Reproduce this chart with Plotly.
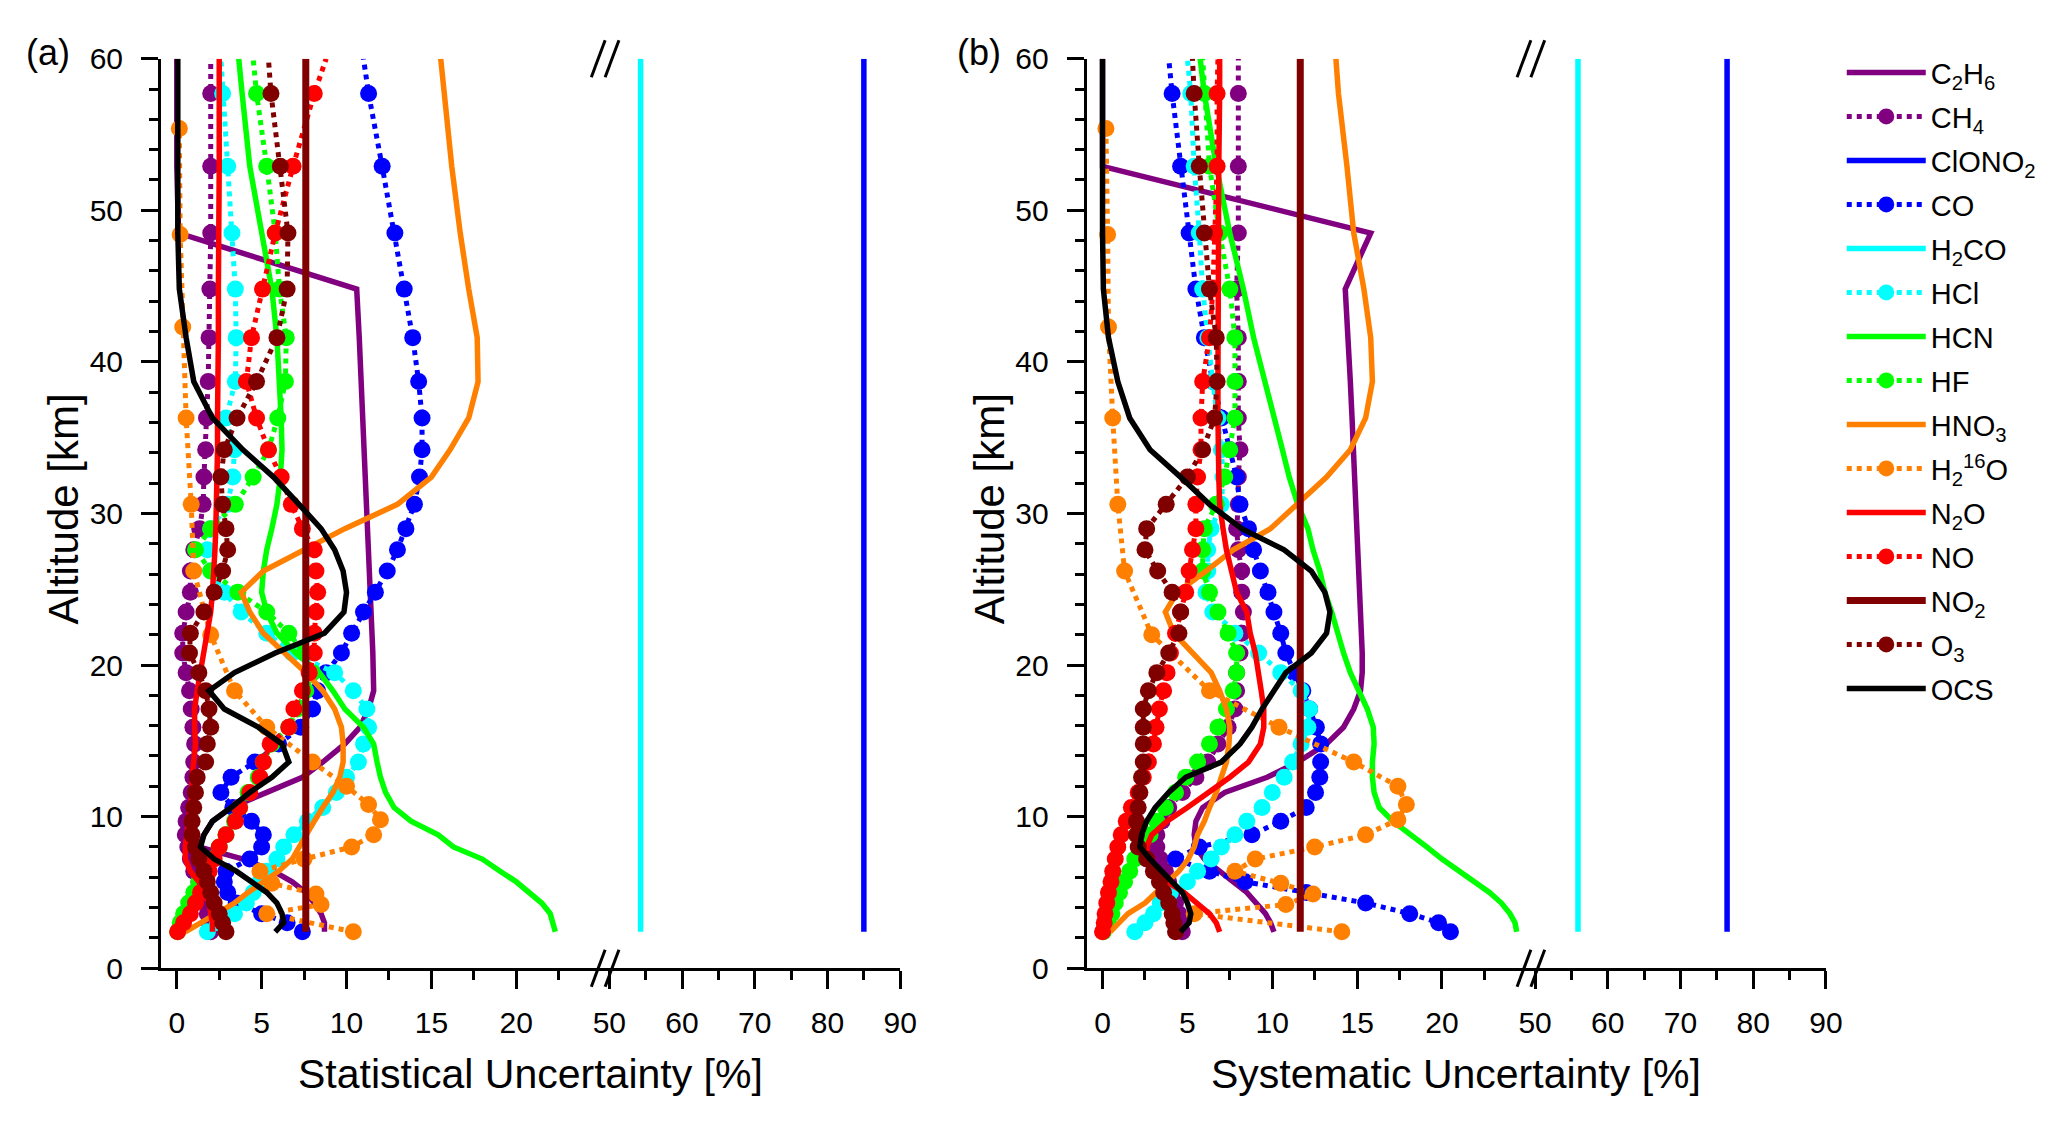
import plotly.graph_objects as go

# ---------------- data ----------------
# altitude levels of the retrieval grid [km]
Z = [2.4, 3.0, 3.6, 4.3, 5.0, 5.7, 6.4, 7.2, 8.0, 8.8,
     9.7, 10.6, 11.6, 12.6, 13.6, 14.8, 15.9, 17.1, 18.3, 19.5,
     20.8, 22.1, 23.5, 24.8, 26.2, 27.6, 29.0, 30.6, 32.4, 34.2,
     36.3, 38.7, 41.6, 44.8, 48.5, 52.9, 57.7, 60.0]
# altitude levels of the H2 16O retrieval [km]
Z_H2O = [2.4, 3.6, 4.2, 4.9, 5.6, 6.4, 7.2, 8.0, 8.8, 9.8, 10.8,
         12.0, 13.6, 15.9, 18.3, 22.0, 26.2, 30.6, 36.3, 42.3, 48.4, 55.4]
# altitude end points of the altitude-independent profiles [km]
Z_ENDS = [2.4, 60.0]

# ---- (a) statistical uncertainty [%] ----
c2h6_stat = [8.7, 8.7, 8.5, 8.1, 7.6, 6.8, 5.7, 3.9, 1.3, 1.6,
             2.1, 3.2, 5.3, 7.4, 8.6, 9.9, 10.8, 11.3, 11.6, 11.6,
             11.55, 11.5, 11.45, 11.4, 11.3, 11.25, 11.2, 11.15, 11.1, 11.0,
             10.95, 10.85, 10.75, 10.6, 0.1, 0.0, 0.0, 0.0]
ch4_stat = [2.0, 1.9, 1.8, 1.7, 1.5, 1.3, 1.0, 0.8, 0.65, 0.5,
            0.55, 0.7, 0.85, 0.95, 1.0, 1.05, 0.95, 0.85, 0.75, 0.55,
            0.35, 0.35, 0.55, 0.8, 0.8, 1.0, 1.35, 1.55, 1.6, 1.7,
            1.75, 1.85, 1.9, 1.95, 2.0, 2.0, 2.0, 2.0]
clono2_stat = [85.0, 85.0]
co_stat = [7.4, 6.5, 5.0, 3.5, 3.0, 2.8, 2.9, 4.3, 5.0, 5.1,
           4.4, 3.3, 2.6, 3.2, 4.6, 6.0, 7.3, 8.0, 8.3, 8.8,
           9.7, 10.3, 11.0, 11.7, 12.4, 13.0, 13.5, 14.0, 14.3, 14.45,
           14.45, 14.25, 13.9, 13.4, 12.85, 12.1, 11.3, 11.0]
h2co_stat = [54.3, 54.3]
hcl_stat = [1.8, 2.4, 3.4, 4.1, 4.5, 4.9, 5.3, 5.9, 6.3, 6.9,
            7.7, 8.6, 9.4, 10.0, 10.7, 11.0, 11.3, 11.2, 10.4, 9.3,
            6.8, 5.3, 3.8, 2.8, 2.0, 1.8, 2.0, 3.0, 3.3, 3.4,
            2.9, 3.45, 3.5, 3.45, 3.25, 3.0, 2.7, 2.6]
hcn_stat = [22.3, 22.15, 22.0, 21.5, 20.8, 20.0, 19.05, 18.0, 16.3, 15.4,
            13.8, 12.8, 12.3, 12.0, 11.8, 11.6, 11.0, 9.9, 9.2, 8.4,
            7.0, 5.9, 5.3, 5.0, 5.1, 5.3, 5.6, 5.9, 6.1, 6.2,
            6.15, 6.05, 5.9, 5.6, 5.0, 4.3, 3.85, 3.65]
hf_stat = [0.05, 0.2, 0.4, 0.7, 1.0, 1.3, 1.7, 2.1, 2.5, 2.9,
           3.4, 3.7, 4.2, 4.8, 5.1, 5.6, 6.6, 7.1, 7.6, 8.0,
           7.5, 6.6, 5.3, 3.6, 2.0, 1.1, 2.0, 3.45, 4.5, 5.4,
           5.95, 6.4, 6.45, 6.05, 5.8, 5.3, 4.7, 4.5]
hno3_stat = [0.5, 1.4, 2.4, 3.4, 4.2, 5.1, 6.0, 6.8, 7.2, 7.6,
             8.1, 8.6, 9.2, 9.6, 9.8, 9.8, 9.7, 9.3, 8.6, 7.6,
             6.3, 5.1, 4.3, 3.8, 5.1, 7.5, 9.9, 13.0, 15.0, 16.1,
             17.2, 17.75, 17.7, 17.2, 16.7, 16.2, 15.75, 15.55]
h2o_stat = [10.4, 5.3, 8.5, 8.2, 5.6, 4.9, 7.5, 10.3, 11.6, 12.0, 11.3,
            10.0, 8.0, 5.3, 3.4, 2.0, 1.0, 0.85, 0.55, 0.35, 0.2, 0.15]
n2o_stat = [2.1, 2.1, 2.0, 1.9, 1.6, 1.3, 0.8, 0.5, 0.5, 0.6,
            0.7, 0.8, 0.9, 0.9, 1.0, 1.1, 1.05, 1.05, 1.2, 1.4,
            1.6, 1.8, 2.0, 2.1, 2.2, 2.25, 2.3, 2.35, 2.4, 2.4,
            2.4, 2.45, 2.45, 2.45, 2.5, 2.5, 2.5, 2.5]
no_stat = [0.05, 0.4, 0.8, 1.1, 1.4, 1.7, 1.9, 2.2, 2.5, 2.9,
           3.45, 3.7, 4.3, 4.9, 5.1, 5.5, 6.6, 6.9, 7.4, 7.8,
           8.1, 8.1, 8.2, 8.3, 8.2, 8.1, 7.4, 6.75, 6.15, 5.4,
           4.7, 4.1, 4.4, 5.05, 5.8, 6.85, 8.1, 8.8]
no2_stat = [7.6, 7.6]
o3_stat = [2.9, 2.7, 2.5, 2.2, 2.0, 1.8, 1.6, 1.3, 1.1, 0.9,
           0.9, 1.0, 1.1, 1.2, 1.7, 1.8, 2.0, 1.9, 1.7, 1.3,
           0.75, 0.8, 1.6, 2.2, 2.7, 3.0, 2.9, 2.7, 2.6, 2.8,
           3.55, 4.7, 5.9, 6.5, 6.55, 6.1, 5.55, 5.4]
ocs_stat = [5.8, 6.3, 6.2, 5.9, 5.3, 4.4, 3.5, 2.2, 1.4, 1.6,
            2.1, 3.2, 4.3, 5.6, 6.6, 6.2, 4.8, 2.8, 1.9, 3.4,
            5.8, 8.7, 9.85, 10.0, 9.8, 9.3, 8.5, 7.2, 5.7, 3.9,
            2.1, 1.0, 0.55, 0.15, 0.06, 0.06, 0.06, 0.06]

# ---- (b) systematic uncertainty [%] ----
c2h6_sys = [10.1, 9.9, 9.6, 9.0, 8.5, 7.7, 6.9, 6.0, 5.5, 5.4,
            5.5, 5.9, 7.2, 9.7, 11.5, 13.2, 14.2, 14.8, 15.2, 15.3,
            15.3, 15.25, 15.2, 15.15, 15.1, 15.1, 15.0, 15.0, 14.9, 14.8,
            14.7, 14.6, 14.45, 14.3, 15.8, 0.0, 0.0, 0.0]
ch4_sys = [4.7, 4.6, 4.5, 4.3, 4.1, 3.9, 3.7, 3.4, 3.2, 3.2,
           3.5, 3.9, 4.7, 5.5, 6.2, 6.8, 7.4, 7.8, 7.9, 7.9,
           8.1, 8.2, 8.3, 8.2, 8.2, 8.0, 7.9, 8.0, 8.0, 8.1,
           8.0, 8.0, 8.0, 7.9, 8.0, 8.0, 8.0, 8.0]
clono2_sys = [76.4, 76.4]
co_sys = [20.5, 19.8, 18.1, 15.5, 12.0, 8.4, 6.3, 4.3, 5.7, 8.8,
          10.5, 12.0, 12.55, 12.8, 12.85, 12.85, 12.6, 12.2, 11.8, 11.3,
          10.8, 10.5, 10.1, 9.75, 9.3, 8.9, 8.6, 8.1, 7.9, 7.5,
          7.0, 6.5, 6.0, 5.5, 5.1, 4.6, 4.1, 3.9]
h2co_sys = [55.9, 55.9]
hcl_sys = [1.9, 2.5, 3.0, 3.4, 4.0, 5.0, 5.6, 6.4, 7.0, 7.8,
           8.5, 9.4, 10.0, 10.7, 11.2, 11.7, 12.1, 12.2, 11.7, 10.5,
           9.2, 7.8, 6.5, 6.1, 6.2, 6.2, 6.4, 7.0, 7.1, 7.0,
           6.8, 6.5, 6.2, 5.9, 5.7, 5.4, 5.2, 5.0]
hcn_sys = [24.4, 24.3, 24.0, 23.5, 22.8, 21.9, 21.0, 20.0, 19.1, 18.2,
           17.1, 16.3, 16.0, 15.9, 15.9, 16.0, 15.95, 15.6, 15.1, 14.6,
           14.2, 13.9, 13.5, 13.1, 12.8, 12.4, 12.1, 11.5, 11.0, 10.6,
           10.1, 9.6, 8.9, 8.3, 7.5, 6.7, 6.0, 5.75]
hf_sys = [0.05, 0.35, 0.55, 0.75, 1.0, 1.3, 1.6, 1.9, 2.2, 2.8,
          3.2, 3.7, 4.3, 4.9, 5.6, 6.3, 6.8, 7.3, 7.7, 7.9,
          7.9, 7.4, 6.8, 6.3, 5.9, 5.9, 6.0, 6.7, 7.2, 7.5,
          7.8, 7.8, 7.8, 7.5, 6.9, 6.3, 6.0, 5.9]
hno3_sys = [0.45, 0.95, 1.5, 2.5, 3.2, 3.9, 4.5, 5.05, 5.4, 5.6,
            6.0, 6.3, 6.7, 7.0, 7.3, 7.45, 7.5, 7.3, 6.9, 6.4,
            5.3, 4.2, 3.7, 4.4, 6.1, 7.7, 9.9, 11.4, 13.2, 14.6,
            15.5, 15.9, 15.8, 15.4, 14.8, 14.4, 13.9, 13.75]
h2o_sys = [14.1, 5.4, 10.8, 12.4, 10.5, 7.8, 9.0, 12.5, 15.5, 17.4, 17.9,
           17.4, 14.8, 10.4, 6.3, 2.9, 1.3, 0.9, 0.6, 0.35, 0.3, 0.2]
n2o_sys = [6.9, 6.7, 6.3, 5.6, 4.8, 3.8, 3.1, 2.7, 2.6, 2.9,
           3.8, 5.0, 6.3, 7.5, 8.6, 9.3, 9.5, 9.5, 9.35, 9.2,
           9.0, 8.7, 8.5, 7.9, 7.6, 7.3, 7.1, 6.9, 6.85, 6.8,
           6.8, 6.8, 6.8, 6.8, 6.8, 6.85, 6.9, 6.9]
no_sys = [0.0, 0.1, 0.15, 0.25, 0.35, 0.5, 0.6, 0.75, 0.9, 1.1,
          1.4, 1.7, 2.1, 2.4, 2.7, 3.0, 3.15, 3.35, 3.6, 3.8,
          4.0, 4.3, 4.6, 4.9, 5.1, 5.3, 5.5, 5.5, 5.6, 5.8,
          5.8, 5.9, 6.3, 6.5, 6.6, 6.75, 6.75, 6.8]
no2_sys = [11.65, 11.65]
o3_sys = [4.3, 4.2, 4.1, 3.9, 3.6, 3.35, 3.0, 2.6, 2.1, 2.0,
          2.0, 2.1, 2.2, 2.3, 2.4, 2.4, 2.4, 2.4, 2.7, 3.2,
          3.9, 4.5, 4.6, 4.1, 3.25, 2.5, 2.6, 3.75, 5.0, 5.9,
          6.6, 6.75, 6.7, 6.3, 6.0, 5.7, 5.4, 5.3]
ocs_sys = [4.6, 5.1, 5.2, 5.0, 4.7, 4.1, 3.4, 2.8, 2.2, 2.3,
           2.6, 3.1, 3.9, 4.9, 7.0, 8.1, 8.8, 9.4, 10.1, 10.8,
           12.3, 13.2, 13.4, 13.1, 12.3, 10.7, 8.2, 6.3, 4.6, 2.8,
           1.6, 0.9, 0.35, 0.05, 0.0, 0.0, 0.0, 0.0]

# axis tick labels
Y_TICKS = [0, 10, 20, 30, 40, 50, 60]
X_LOW_TICKS = [0, 5, 10, 15, 20]
X_LOW_MINOR = [2.5, 7.5, 12.5, 17.5, 22.5]
X_HIGH_TICKS = [50, 60, 70, 80, 90]
X_HIGH_MINOR = [55, 65, 75, 85]

# ---------------- styling / layout ----------------
PURPLE, BLUE, CYAN, GREEN = "#800080", "#0000FF", "#00FFFF", "#00FF00"
ORANGE, RED, DARKRED, BLACK = "#FF8000", "#FF0000", "#800000", "#000000"

# name, colour, dotted(with markers)?, altitudes, stat, sys, upper-segment?
SPECIES = [
    ("C<sub>2</sub>H<sub>6</sub>", PURPLE, False, Z, c2h6_stat, c2h6_sys, False),
    ("CH<sub>4</sub>", PURPLE, True, Z, ch4_stat, ch4_sys, False),
    ("ClONO<sub>2</sub>", BLUE, False, Z_ENDS, clono2_stat, clono2_sys, True),
    ("CO", BLUE, True, Z, co_stat, co_sys, False),
    ("H<sub>2</sub>CO", CYAN, False, Z_ENDS, h2co_stat, h2co_sys, True),
    ("HCl", CYAN, True, Z, hcl_stat, hcl_sys, False),
    ("HCN", GREEN, False, Z, hcn_stat, hcn_sys, False),
    ("HF", GREEN, True, Z, hf_stat, hf_sys, False),
    ("HNO<sub>3</sub>", ORANGE, False, Z, hno3_stat, hno3_sys, False),
    ("H<sub>2</sub><sup>16</sup>O", ORANGE, True, Z_H2O, h2o_stat, h2o_sys, False),
    ("N<sub>2</sub>O", RED, False, Z, n2o_stat, n2o_sys, False),
    ("NO", RED, True, Z, no_stat, no_sys, False),
    ("NO<sub>2</sub>", DARKRED, False, Z_ENDS, no2_stat, no2_sys, False),
    ("O<sub>3</sub>", DARKRED, True, Z, o3_stat, o3_sys, False),
    ("OCS", BLACK, False, Z, ocs_stat, ocs_sys, False),
]

W, H = 2067, 1125
FONT = "Arial, 'Liberation Sans', sans-serif"


def fx(p):
    return p / W


def fy(p):
    return 1 - p / H


TOP_PX, BOT_PX = 44, 981
X_LOW_RANGE = [-0.93, 25.12]
X_HIGH_RANGE = [49.15, 90.0]

PANELS = [
    dict(left=153, brk=601, right=902, xl="x", xu="x2", y="y",
         xlt="x5", xut="x6", yr="y3", label="(a)", label_px=39,
         title="Statistical Uncertainty [%]"),
    dict(left=1091, brk=1539, right=1840, xl="x3", xu="x4", y="y2",
         xlt="x7", xut="x8", yr="y4", label="(b)", label_px=982,
         title="Systematic Uncertainty [%]"),
]

fig = go.Figure()

for pi, P in enumerate(PANELS):
    for (name, color, dotted, alts, stat, sysv, upper) in SPECIES:
        vals = stat if pi == 0 else sysv
        xa = P["xu"] if upper else P["xl"]
        kw = dict(x=vals, y=alts, name=name, legendgroup=name,
                  showlegend=(pi == 0), xaxis=xa, yaxis=P["y"],
                  hoverinfo="skip", cliponaxis=True)
        if dotted:
            sizes = [0 if a > 59 else 17 for a in alts]
            fig.add_trace(go.Scatter(
                mode="lines+markers",
                line=dict(color=color, width=5, dash="dot"),
                marker=dict(color=color, size=sizes, opacity=1,
                            line=dict(width=0)),
                **kw))
        else:
            w = 7 if name.startswith("NO<sub>2") else 5.5
            fig.add_trace(go.Scatter(
                mode="lines", line=dict(color=color, width=w), **kw))

tickfont = dict(family=FONT, size=30, color="black")
axis_common = dict(showline=True, linecolor="black", linewidth=3,
                   showgrid=False, zeroline=False, tickcolor="black",
                   tickwidth=3, tickfont=tickfont, fixedrange=True)


def minor_ticks(vals, side):
    return dict(tickmode="array", tickvals=vals, ticks=side, ticklen=9,
                tickwidth=3, tickcolor="black", showgrid=False)


def key(a):
    return "xaxis" + a[1:] if a.startswith("x") else "yaxis" + a[1:]


layout_axes = {}
shapes = []
annotations = []
for P in PANELS:
    d_low = [fx(P["left"]), fx(P["brk"])]
    d_high = [fx(P["brk"]), fx(P["right"])]
    ydom = [fy(BOT_PX), fy(TOP_PX)]

    layout_axes[key(P["xl"])] = dict(
        axis_common, domain=d_low, range=X_LOW_RANGE, anchor=P["y"],
        tickmode="array", tickvals=X_LOW_TICKS, ticks="outside", ticklen=18,
        ticklabelstandoff=8, minor=minor_ticks(X_LOW_MINOR, "outside"))
    layout_axes[key(P["xu"])] = dict(
        axis_common, domain=d_high, range=X_HIGH_RANGE, anchor=P["y"],
        tickmode="array", tickvals=X_HIGH_TICKS, ticks="outside", ticklen=18,
        ticklabelstandoff=8, minor=minor_ticks(X_HIGH_MINOR, "outside"))
    layout_axes[key(P["xlt"])] = dict(
        axis_common, overlaying=P["xl"], side="top", range=X_LOW_RANGE,
        anchor=P["y"], tickmode="array", tickvals=X_LOW_TICKS, ticks="inside",
        ticklen=18, showticklabels=False,
        minor=minor_ticks(X_LOW_MINOR, "inside"))
    layout_axes[key(P["xut"])] = dict(
        axis_common, overlaying=P["xu"], side="top", range=X_HIGH_RANGE,
        anchor=P["y"], tickmode="array", tickvals=X_HIGH_TICKS, ticks="inside",
        ticklen=18, showticklabels=False,
        minor=minor_ticks(X_HIGH_MINOR, "inside"))
    layout_axes[key(P["y"])] = dict(
        axis_common, domain=ydom, range=[0, 60], anchor=P["xl"],
        tickmode="array", tickvals=Y_TICKS, ticks="outside", ticklen=17,
        ticklabelstandoff=12,
        minor=dict(dtick=2, tick0=0, ticks="outside", ticklen=9, tickwidth=3,
                   tickcolor="black", showgrid=False))
    layout_axes[key(P["yr"])] = dict(
        axis_common, overlaying=P["y"], side="right", range=[0, 60],
        anchor=P["xu"], tickmode="array", tickvals=Y_TICKS, ticks="inside",
        ticklen=17, showticklabels=False,
        minor=dict(dtick=2, tick0=0, ticks="inside", ticklen=9, tickwidth=3,
                   tickcolor="black", showgrid=False))

    # axis-break marks "//" on bottom and top axes
    b = P["brk"]
    for yb in (BOT_PX, TOP_PX):
        for dx in (0, 14):
            shapes.append(dict(type="line", xref="paper", yref="paper",
                               x0=fx(b - 12 + dx), y0=fy(yb + 19),
                               x1=fx(b + 2 + dx), y1=fy(yb - 19),
                               line=dict(color="black", width=3),
                               layer="above"))

    annotations.append(dict(text=P["label"], xref="paper", yref="paper",
                            x=fx(P["label_px"]), y=fy(38), showarrow=False,
                            xanchor="center", yanchor="middle",
                            font=dict(family=FONT, size=36, color="black")))
    annotations.append(dict(text=P["title"], xref="paper", yref="paper",
                            x=fx((P["left"] + P["right"]) / 2), y=fy(1090),
                            showarrow=False, xanchor="center",
                            yanchor="middle",
                            font=dict(family=FONT, size=41, color="black")))
    annotations.append(dict(text="Altitude [km]", xref="paper", yref="paper",
                            x=fx(P["left"] - 99), y=fy(508), textangle=-90,
                            showarrow=False, xanchor="center",
                            yanchor="middle",
                            font=dict(family=FONT, size=42, color="black")))

fig.update_layout(
    width=W, height=H,
    margin=dict(l=0, r=0, t=0, b=0, pad=0),
    paper_bgcolor="white", plot_bgcolor="white",
    font=dict(family=FONT, color="black"),
    showlegend=True,
    legend=dict(x=fx(1856), y=fy(32), xanchor="left", yanchor="top",
                font=dict(family=FONT, size=29, color="black"),
                bgcolor="rgba(0,0,0,0)", borderwidth=0, itemwidth=79,
                tracegroupgap=3.3, itemclick=False, itemdoubleclick=False),
    shapes=shapes,
    annotations=annotations,
    **layout_axes,
)

POST = (
    "document.documentElement.style.margin='0';"
    "document.documentElement.style.overflow='hidden';"
    "document.body.style.margin='0';"
    "document.body.style.padding='0';"
    "document.body.style.overflow='hidden';"
    "var gd=document.getElementById('{plot_id}');"
    "gd.style.position='absolute';gd.style.left='0px';gd.style.top='0px';"
)

fig.write_html("out.html", include_plotlyjs=True, post_script=POST,
               config={"displayModeBar": False})
